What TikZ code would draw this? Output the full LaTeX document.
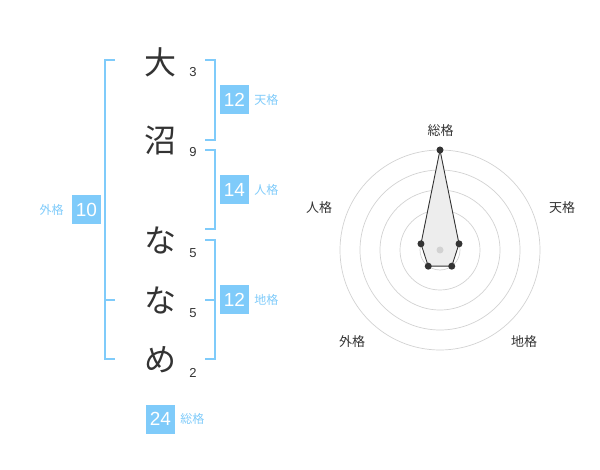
\documentclass[tikz,border=0pt]{standalone}
\usepackage{fontspec}
\setmainfont{Liberation Sans}
\newfontfamily\jpfont{Noto Sans CJK JP}
\usetikzlibrary{positioning}
\definecolor{kakublue}{RGB}{127,203,250}
\definecolor{inkgrey}{RGB}{51,51,51}
\definecolor{ringgrey}{RGB}{210,210,210}
\tikzset{
    name char/.style={
        font=\jpfont\fontsize{32}{32}\selectfont,
        text=inkgrey,
        inner sep=0,
    },
    stroke count/.style={
        font=\fontsize{13}{13}\selectfont,
        text=inkgrey,
        inner sep=0,
    },
    kaku bracket/.style={
        draw=kakublue,
        line width=2pt,
    },
    kaku box/.style={
        fill=kakublue,
        text=white,
        font=\fontsize{19}{19}\selectfont,
        minimum size=29pt,
        inner sep=0,
    },
    kaku label/.style={
        font=\jpfont\fontsize{12}{12}\selectfont,
        text=kakublue,
        inner sep=0,
    },
    radar label/.style={
        font=\jpfont\fontsize{13}{13}\selectfont,
        text=inkgrey,
        inner sep=0,
    },
    radar point/.style={
        fill=inkgrey,
        circle,
        minimum size=7pt,
        inner sep=0,
    },
}
\begin{document}
\begin{tikzpicture}[x=1pt,y=-1pt]
    \useasboundingbox (0,0) rectangle (600,470);

    % name characters and stroke counts
    \node[name char] (c1) at (160,62) {大};
    \node[name char] (c2) at (160,141) {沼};
    \node[name char] (c3) at (160,240) {な};
    \node[name char] (c4) at (160,300) {な};
    \node[name char] (c5) at (160,360) {め};
    \node[stroke count] (s1) at (193,72) {3};
    \node[stroke count] (s2) at (193,152) {9};
    \node[stroke count] (s3) at (193,253) {5};
    \node[stroke count] (s4) at (193,313) {5};
    \node[stroke count] (s5) at (193,373) {2};

    % brackets
    \coordinate (ga) at (115,60);
    \coordinate (gb) at (115,300);
    \coordinate (gc) at (115,359);
    \draw[kaku bracket] (ga) -- (105,60) -- (105,359) -- (gc);
    \draw[kaku bracket] (gb) -- (105,300);
    \coordinate (ta) at (205,60);
    \coordinate (tb) at (205,140);
    \draw[kaku bracket] (ta) -- (215,60) -- (215,140) -- (tb);
    \coordinate (ja) at (205,150);
    \coordinate (jb) at (205,229);
    \draw[kaku bracket] (ja) -- (215,150) -- (215,229) -- (jb);
    \coordinate (ca) at (205,240);
    \coordinate (cb) at (205,300);
    \coordinate (cc) at (205,359);
    \draw[kaku bracket] (ca) -- (215,240) -- (215,359) -- (cc);
    \draw[kaku bracket] (cb) -- (215,300);

    % scores
    \node[kaku box] (ten) at (234.5,100) {12};
    \node[kaku label, right=5pt of ten] (tenl) {天格};
    \node[kaku box] (jin) at (234.5,190) {14};
    \node[kaku label, right=5pt of jin] (jinl) {人格};
    \node[kaku box] (chi) at (234.5,300) {12};
    \node[kaku label, right=5pt of chi] (chil) {地格};
    \node[kaku box] (gai) at (86.5,210) {10};
    \node[kaku label, left=8pt of gai] (gail) {外格};
    \node[kaku box] (sou) at (160.5,419) {24};
    \node[kaku label, right=5pt of sou] (soul) {総格};

    % radar chart
    \begin{scope}[shift={(440,250)},y=1pt]
        \foreach \r in {20,40,60,80,100}
            \draw[ringgrey, line width=0.7pt] (0,0) circle (\r);
        \coordinate (rs) at (90:100);
        \coordinate (rt) at (18:20);
        \coordinate (rc) at (-54:20);
        \coordinate (rg) at (-126:20);
        \coordinate (rj) at (162:20);
        \draw[inkgrey, fill=black!7, line width=0.9pt] (rs) -- (rt) -- (rc) -- (rg) -- (rj) -- cycle;
        \fill[ringgrey] (0,0) circle (3.5);
        \foreach \p in {rs,rt,rc,rg,rj}
            \node[radar point] at (\p) {};
    \end{scope}
    \node[radar label] (ls) at (440.5,131) {総格};
    \node[radar label] (lt) at (562,208) {天格};
    \node[radar label] (lc) at (524,342) {地格};
    \node[radar label] (lg) at (352,342) {外格};
    \node[radar label] (lj) at (319,208) {人格};

\end{tikzpicture}
\end{document}
